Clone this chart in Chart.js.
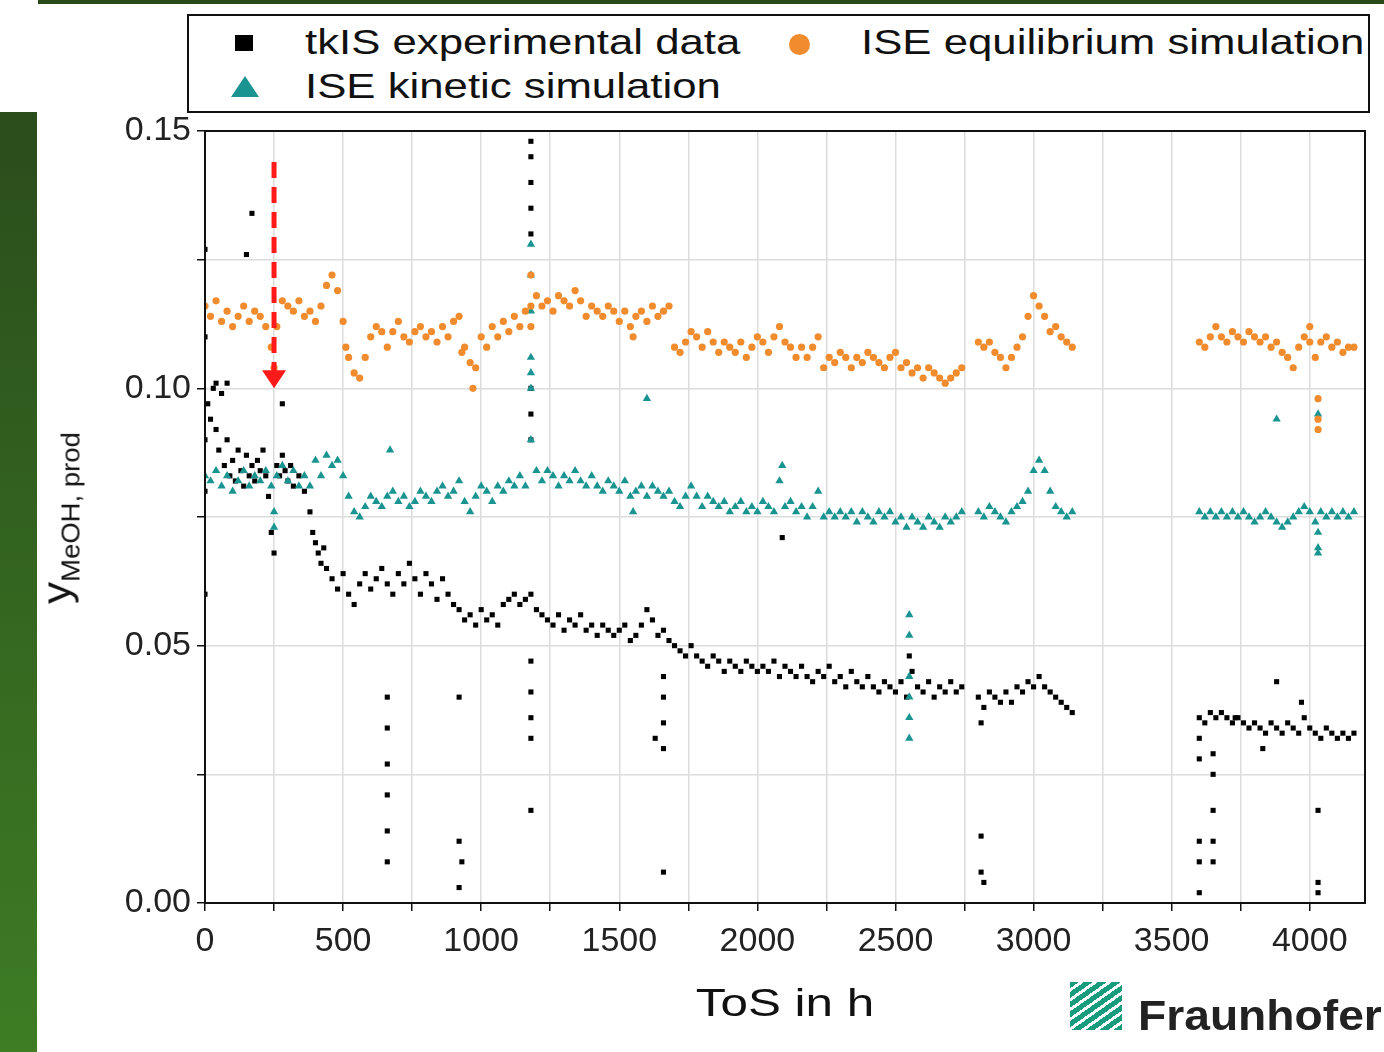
<!DOCTYPE html>
<html>
<head>
<meta charset="utf-8">
<script src="https://cdn.jsdelivr.net/npm/chart.js@4.4.1/dist/chart.umd.min.js"></script>
<style>
  body { margin:0; width:1384px; height:1052px; background:#fff; overflow:hidden; position:relative; font-family:"Liberation Sans", Arial, sans-serif; }
  #wrap { position:absolute; left:0; top:0; width:1384px; height:1052px; }
  .abs { position:absolute; }
  #legend { left:187px; top:14px; width:1179px; height:95px; border:2px solid #111; background:#fff; overflow:hidden; }
  .lt { position:absolute; font-size:35px; color:#111; line-height:40px; white-space:nowrap; transform:scaleX(1.25); transform-origin:left center; }
</style>
</head>
<body>
<div class="abs" style="left:38px;top:0;width:1346px;height:4px;background:#2b4a1a"></div>
<div class="abs" style="left:0;top:112px;width:37px;height:940px;background:linear-gradient(#2a4d1c,#3e7d24)"></div>
<div id="wrap"><canvas id="c" width="1384" height="1052"></canvas></div>
<div id="legend" class="abs">
  <div class="abs" style="left:46px;top:19px;width:18px;height:16px;background:#000"></div>
  <div class="lt" style="left:116px;top:6px">tkIS experimental data</div>
  <div class="abs" style="left:600px;top:18px;width:21px;height:21px;border-radius:50%;background:#f08c2e"></div>
  <div class="lt" style="left:672px;top:6px">ISE equilibrium simulation</div>
  <div class="abs" style="left:42px;top:60px;width:0;height:0;border-left:14px solid transparent;border-right:14px solid transparent;border-bottom:21px solid #1a9490"></div>
  <div class="lt" style="left:116px;top:50px">ISE kinetic simulation</div>
</div>
<div class="abs" style="left:60px;top:518px;transform:translate(-50%,-50%) rotate(-90deg) scaleX(1.1);white-space:nowrap;font-size:40px;color:#111">y<sub style="font-size:25px">MeOH, prod</sub></div>
<div class="abs" style="left:785px;top:1003px;transform:translate(-50%,-50%) scaleX(1.3);font-size:38px;color:#111;white-space:nowrap">ToS in h</div>
<div class="abs" style="left:1070px;top:982px;width:52px;height:48px;background:repeating-linear-gradient(-35deg,#179c7d 0 5px,#fff 5px 8px)"></div>
<div class="abs" style="left:1138px;top:992px;font-size:42px;font-weight:bold;color:#222;white-space:nowrap;transform:scaleX(1.1);transform-origin:left center">Fraunhofer</div>
<script>
var expData = [[0,0.090],[10,0.097],[20,0.094],[30,0.100],[40,0.092],[50,0.088],[60,0.099],[70,0.085],[80,0.090],[90,0.083],[100,0.086],[110,0.082],[120,0.088],[130,0.084],[140,0.081],[150,0.087],[160,0.083],[170,0.085],[180,0.082],[190,0.086],[200,0.084],[210,0.088],[220,0.083],[230,0.079],[240,0.072],[250,0.068],[260,0.085],[270,0.083],[280,0.087],[290,0.084],[300,0.082],[310,0.085],[320,0.081],[340,0.083],[360,0.080],[380,0.076],[390,0.072],[400,0.070],[410,0.068],[420,0.066],[430,0.069],[440,0.065],[460,0.063],[480,0.061],[500,0.064],[520,0.060],[540,0.058],[560,0.062],[580,0.064],[600,0.061],[620,0.063],[640,0.065],[660,0.062],[680,0.060],[700,0.064],[720,0.062],[740,0.066],[760,0.063],[780,0.060],[800,0.064],[820,0.062],[840,0.059],[860,0.063],[880,0.060],[900,0.058],[920,0.057],[940,0.055],[960,0.056],[980,0.054],[1000,0.057],[1020,0.055],[1040,0.056],[1060,0.054],[1080,0.058],[1100,0.059],[1120,0.060],[1140,0.058],[1160,0.059],[1180,0.060],[1200,0.057],[1220,0.056],[1240,0.055],[1260,0.054],[1280,0.056],[1300,0.053],[1320,0.055],[1340,0.054],[1360,0.056],[1380,0.053],[1400,0.054],[1420,0.052],[1440,0.054],[1460,0.053],[1480,0.052],[1500,0.053],[1520,0.054],[1540,0.051],[1560,0.052],[1580,0.054],[1600,0.057],[1620,0.055],[1640,0.052],[1660,0.053],[1680,0.051],[1700,0.050],[1720,0.049],[1740,0.048],[1760,0.050],[1780,0.048],[1800,0.047],[1820,0.046],[1840,0.048],[1860,0.047],[1880,0.045],[1900,0.047],[1920,0.046],[1940,0.045],[1960,0.047],[1980,0.046],[2000,0.045],[2020,0.046],[2040,0.045],[2060,0.047],[2080,0.044],[2100,0.046],[2120,0.045],[2140,0.044],[2160,0.046],[2180,0.044],[2200,0.043],[2220,0.045],[2240,0.044],[2260,0.046],[2280,0.043],[2300,0.044],[2320,0.042],[2340,0.045],[2360,0.043],[2380,0.042],[2400,0.044],[2420,0.042],[2440,0.041],[2460,0.043],[2480,0.042],[2500,0.041],[2520,0.043],[2540,0.040],[2550,0.048],[2560,0.045],[2580,0.042],[2600,0.041],[2620,0.043],[2640,0.040],[2660,0.042],[2680,0.041],[2700,0.043],[2720,0.041],[2740,0.042],
  [2800,0.040],[2820,0.038],[2840,0.041],[2860,0.040],[2880,0.039],[2900,0.041],[2920,0.039],[2940,0.042],[2960,0.041],[2980,0.043],[3000,0.042],[3020,0.044],[3040,0.042],[3060,0.041],[3080,0.040],[3100,0.039],[3120,0.038],[3140,0.037],
  [3600,0.036],[3620,0.035],[3640,0.037],[3660,0.036],[3680,0.037],[3700,0.036],[3720,0.035],[3740,0.036],[3760,0.035],[3780,0.034],[3800,0.035],[3820,0.034],[3840,0.033],[3860,0.035],[3880,0.034],[3900,0.033],[3920,0.035],[3940,0.034],[3960,0.033],[3980,0.036],[4000,0.034],[4020,0.033],[4040,0.032],[4060,0.034],[4080,0.033],[4100,0.032],[4120,0.033],[4140,0.032],[4160,0.033]];
var expOutliers = [[0,0.127],[0,0.11],[0,0.08],[0,0.06],[150,0.126],[170,0.134],[40,0.101],[80,0.101],[280,0.097],[660,0.040],[660,0.034],[660,0.027],[660,0.021],[660,0.014],[660,0.008],[920,0.040],[920,0.012],[930,0.008],[920,0.003],[1180,0.148],[1180,0.145],[1180,0.140],[1180,0.135],[1180,0.130],[1180,0.100],[1180,0.095],[1180,0.090],[1180,0.047],[1180,0.041],[1180,0.036],[1180,0.032],[1180,0.018],[1660,0.044],[1660,0.040],[1660,0.035],[1660,0.030],[1660,0.006],[1630,0.032],[2090,0.071],[2810,0.013],[2810,0.006],[2820,0.004],[2810,0.035],[3600,0.032],[3600,0.028],[3600,0.012],[3600,0.008],[3600,0.002],[3650,0.029],[3650,0.025],[3650,0.018],[3650,0.012],[3650,0.008],[3880,0.043],[3730,0.036],[4030,0.018],[4030,0.004],[4030,0.002],[3970,0.039],[3830,0.030]];

var eqData = [[0,0.116],[20,0.114],[40,0.117],[60,0.113],[80,0.115],[100,0.112],[120,0.114],[140,0.116],[160,0.113],[180,0.115],[200,0.114],[220,0.112],[240,0.108],[250,0.104],[260,0.112],[280,0.117],[300,0.116],[320,0.115],[340,0.117],[360,0.114],[380,0.115],[400,0.113],[420,0.116],[440,0.120],[460,0.122],[480,0.119],[500,0.113],[510,0.108],[520,0.106],[540,0.103],[560,0.102],[580,0.106],[600,0.110],[620,0.112],[640,0.111],[660,0.108],[680,0.111],[700,0.113],[720,0.110],[740,0.109],[760,0.111],[780,0.112],[800,0.110],[820,0.111],[840,0.109],[860,0.112],[880,0.110],[900,0.113],[920,0.114],[930,0.107],[940,0.108],[960,0.105],[970,0.100],[980,0.104],[1000,0.110],[1020,0.108],[1040,0.112],[1060,0.110],[1080,0.113],[1100,0.111],[1120,0.114],[1140,0.112],[1160,0.115],[1180,0.112],[1180,0.122],[1180,0.116],[1200,0.118],[1220,0.116],[1240,0.117],[1260,0.115],[1280,0.118],[1300,0.117],[1320,0.116],[1340,0.119],[1360,0.117],[1380,0.114],[1400,0.116],[1420,0.115],[1440,0.114],[1460,0.116],[1480,0.115],[1500,0.113],[1520,0.115],[1540,0.112],[1550,0.110],[1560,0.114],[1580,0.115],[1600,0.113],[1620,0.116],[1640,0.114],[1660,0.115],[1680,0.116],
  [1700,0.108],[1720,0.107],[1740,0.109],[1760,0.111],[1780,0.110],[1800,0.108],[1820,0.111],[1840,0.109],[1860,0.107],[1880,0.109],[1900,0.108],[1920,0.107],[1940,0.109],[1960,0.106],[1980,0.108],[2000,0.110],[2020,0.109],[2040,0.107],[2060,0.110],[2080,0.112],[2100,0.109],[2120,0.108],[2140,0.106],[2160,0.108],[2180,0.106],[2200,0.108],[2220,0.110],[2240,0.104],[2260,0.106],[2280,0.105],[2300,0.107],[2320,0.106],[2340,0.104],[2360,0.106],[2380,0.105],[2400,0.107],[2420,0.106],[2440,0.105],[2460,0.104],[2480,0.106],[2500,0.107],[2520,0.104],[2540,0.105],[2560,0.103],[2580,0.104],[2600,0.102],[2620,0.104],[2640,0.103],[2660,0.102],[2680,0.101],[2700,0.102],[2720,0.103],[2740,0.104],
  [2800,0.109],[2820,0.108],[2840,0.109],[2860,0.107],[2880,0.106],[2900,0.104],[2920,0.106],[2940,0.108],[2960,0.110],[2980,0.114],[3000,0.118],[3020,0.116],[3040,0.114],[3060,0.111],[3080,0.112],[3100,0.110],[3120,0.109],[3140,0.108],
  [3600,0.109],[3620,0.108],[3640,0.110],[3660,0.112],[3680,0.110],[3700,0.109],[3720,0.111],[3740,0.110],[3760,0.109],[3780,0.111],[3800,0.110],[3820,0.109],[3840,0.110],[3860,0.108],[3880,0.109],[3900,0.107],[3920,0.106],[3940,0.104],[3960,0.108],[3980,0.110],[4000,0.109],[4000,0.112],[4020,0.106],[4030,0.098],[4030,0.094],[4030,0.092],[4040,0.109],[4060,0.110],[4080,0.108],[4100,0.109],[4120,0.107],[4140,0.108],[4160,0.108]];

var kinData = [[0,0.083],[20,0.082],[40,0.084],[60,0.081],[80,0.083],[100,0.080],[120,0.082],[140,0.084],[160,0.081],[180,0.083],[200,0.082],[220,0.084],[240,0.081],[250,0.076],[250,0.073],[260,0.083],[280,0.085],[300,0.082],[320,0.084],[340,0.081],[360,0.083],[380,0.081],[400,0.086],[420,0.083],[440,0.087],[460,0.085],[480,0.086],[500,0.083],[520,0.079],[540,0.076],[560,0.075],[580,0.077],[600,0.079],[620,0.078],[640,0.077],[660,0.079],[670,0.088],[680,0.080],[700,0.078],[720,0.079],[740,0.077],[760,0.078],[780,0.080],[800,0.079],[820,0.078],[840,0.080],[860,0.081],[880,0.079],[900,0.080],[920,0.082],[940,0.078],[960,0.076],[980,0.079],[1000,0.081],[1020,0.080],[1040,0.078],[1060,0.081],[1080,0.080],[1100,0.082],[1120,0.081],[1140,0.083],[1160,0.081],[1180,0.128],[1180,0.122],[1180,0.115],[1180,0.106],[1180,0.103],[1180,0.100],[1180,0.090],[1200,0.084],[1220,0.082],[1240,0.084],[1260,0.083],[1280,0.081],[1300,0.083],[1320,0.082],[1340,0.084],[1360,0.082],[1380,0.081],[1400,0.083],[1420,0.081],[1440,0.080],[1460,0.082],[1480,0.081],[1500,0.080],[1520,0.082],[1540,0.079],[1550,0.076],[1560,0.080],[1580,0.081],[1600,0.079],[1600,0.098],[1620,0.081],[1640,0.080],[1660,0.079],[1680,0.080],[1700,0.078],[1720,0.077],[1740,0.079],[1760,0.081],[1780,0.079],[1800,0.077],[1820,0.079],[1840,0.078],[1860,0.077],[1880,0.078],[1900,0.076],[1920,0.077],[1940,0.078],[1960,0.076],[1980,0.077],[2000,0.076],[2020,0.078],[2040,0.077],[2060,0.076],[2080,0.082],[2090,0.085],[2100,0.077],[2120,0.078],[2140,0.076],[2160,0.077],[2180,0.075],[2200,0.077],[2220,0.080],[2240,0.075],[2260,0.076],[2280,0.075],[2300,0.076],[2320,0.075],[2340,0.076],[2360,0.074],[2380,0.076],[2400,0.075],[2420,0.074],[2440,0.076],[2460,0.075],[2480,0.076],[2500,0.074],[2520,0.075],[2540,0.073],[2550,0.056],[2550,0.052],[2550,0.044],[2550,0.040],[2550,0.036],[2550,0.032],[2560,0.075],[2580,0.074],[2600,0.073],[2620,0.075],[2640,0.074],[2660,0.073],[2680,0.075],[2700,0.074],[2720,0.075],[2740,0.076],
  [2800,0.076],[2820,0.075],[2840,0.077],[2860,0.076],[2880,0.075],[2900,0.074],[2920,0.076],[2940,0.077],[2960,0.078],[2980,0.080],[3000,0.084],[3020,0.086],[3040,0.084],[3060,0.080],[3080,0.077],[3100,0.076],[3120,0.075],[3140,0.076],
  [3600,0.076],[3620,0.075],[3640,0.076],[3660,0.075],[3680,0.076],[3700,0.075],[3720,0.076],[3740,0.075],[3760,0.076],[3780,0.075],[3800,0.074],[3820,0.075],[3840,0.076],[3860,0.075],[3880,0.074],[3880,0.094],[3900,0.073],[3920,0.074],[3940,0.075],[3960,0.076],[3980,0.077],[4000,0.076],[4020,0.074],[4030,0.095],[4030,0.072],[4030,0.069],[4030,0.068],[4040,0.076],[4060,0.075],[4080,0.076],[4100,0.075],[4120,0.076],[4140,0.075],[4160,0.076]];

var xTicks = [0, 500, 1000, 1500, 2000, 2500, 3000, 3500, 4000];
var xGrid = [0, 250, 500, 750, 1000, 1250, 1500, 1750, 2000, 2250, 2500, 2750, 3000, 3250, 3500, 3750, 4000];
var yTicks = [0.00, 0.05, 0.10, 0.15];
var arrowLine = {x: 250, yTop: 0.144, yTip: 0.1};
var xMax = 4200;

function toPts(list) { return list.map(function(p){ return {x: p[0], y: p[1]}; }); }

var extras = {
  id: 'extras',
  afterDatasetsDraw: function(chart) {
    var ctx = chart.ctx, a = chart.chartArea;
    var xs = chart.scales.x, ys = chart.scales.y;
    var ax = xs.getPixelForValue(arrowLine.x);
    var top = ys.getPixelForValue(arrowLine.yTop), tip = ys.getPixelForValue(arrowLine.yTip);
    ctx.save();
    ctx.strokeStyle = '#ff1a1a'; ctx.lineWidth = 5; ctx.setLineDash([16, 9]);
    ctx.beginPath(); ctx.moveTo(ax, top); ctx.lineTo(ax, tip - 16); ctx.stroke();
    ctx.setLineDash([]); ctx.fillStyle = '#ff1a1a';
    ctx.beginPath(); ctx.moveTo(ax - 12, tip - 18); ctx.lineTo(ax + 12, tip - 18); ctx.lineTo(ax, tip); ctx.closePath(); ctx.fill();
    ctx.strokeStyle = '#111'; ctx.lineWidth = 2;
    ctx.strokeRect(a.left, a.top, a.right - a.left, a.bottom - a.top);
    ctx.fillStyle = '#222'; ctx.font = '34px "Liberation Sans", Arial, sans-serif';
    ctx.textAlign = 'center'; ctx.textBaseline = 'top';
    xTicks.forEach(function(t){ ctx.fillText(String(t), xs.getPixelForValue(t), a.bottom + 22); });
    ctx.restore();
  }
};

new Chart(document.getElementById('c'), {
  type: 'scatter',
  data: {
    datasets: [
      {label: 'ISE equilibrium simulation', data: toPts(eqData), pointStyle: 'circle', pointRadius: 3.6, backgroundColor: '#f08c2e', borderWidth: 0},
      {label: 'ISE kinetic simulation', data: toPts(kinData), pointStyle: 'triangle', pointRadius: 4.8, backgroundColor: '#1a9490', borderWidth: 0},
      {label: 'tkIS experimental data', data: toPts(expData.concat(expOutliers)), pointStyle: 'rect', pointRadius: 3.6, backgroundColor: '#000', borderWidth: 0}
    ]
  },
  options: {
    responsive: false, animation: false,
    layout: {padding: {top: 131, right: 19, left: 0, bottom: 0}},
    plugins: {legend: {display: false}, tooltip: {enabled: false}},
    scales: {
      x: {
        min: 0, max: xMax,
        afterDataLimits: function(s){ s.min = 0; s.max = xMax; },
        afterBuildTicks: function(s){ s.ticks = xGrid.map(function(v){ return {value: v}; }); s.min = 0; s.max = xMax; },
        afterFit: function(s){ s.height = 149; },
        ticks: {autoSkip: false, maxRotation: 0, minRotation: 0, font: {size: 34}, color: 'rgba(0,0,0,0)', padding: 8,
          callback: function(){ return ''; }},
        grid: {color: '#dcdcdc', lineWidth: 1.5, tickLength: 8, tickColor: '#111'},
        border: {display: false}
      },
      y: {
        min: 0, max: 0.15,
        afterFit: function(s){ s.width = 205; },
        ticks: {stepSize: 0.025, color: '#222', font: {size: 34, family: 'Liberation Sans'}, padding: 6,
          callback: function(v){ var r = Math.round(v * 1000) / 1000; return yTicks.indexOf(r) >= 0 ? r.toFixed(2) : ''; }},
        grid: {color: '#dcdcdc', lineWidth: 1.5, tickLength: 8, tickColor: '#111'},
        border: {display: false}
      }
    }
  },
  plugins: [extras]
});
</script>
</body>
</html>
